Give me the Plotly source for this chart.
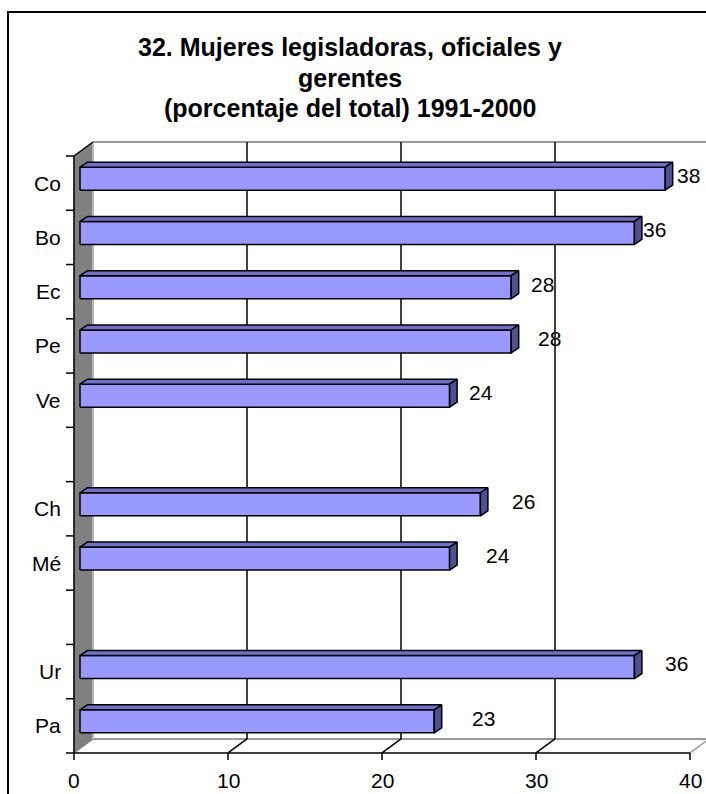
import plotly.graph_objects as go

# data (top to bottom, blank slots keep the gaps between groups)
countries = ["Co", "Bo", "Ec", "Pe", "Ve", "", "Ch", "Mé", "", "Ur", "Pa"]
values = [38, 36, 28, 28, 24, None, 26, 24, None, 36, 23]
x_ticks = [0, 10, 20, 30, 40]
# where Excel left each data label, relative to its bar end
label_dx = [1.9, 1.7, 2.4, 2.9, 2.4, None, 3.2, 3.5, None, 3.1, 3.6]

title_lines = [
    "32. Mujeres legisladoras, oficiales y",
    "gerentes",
    "(porcentaje del total) 1991-2000",
]

W, H = 706, 794
# axis scale: value 0 -> px 74, 40 -> px 690 ; slot boundaries px 156 .. 753
PX_X0, PX_PER_V = 74, 15.4
PX_Y0, PX_PER_S = 156, 54.27

# 3d depth of the walls and of the bars (in axis units)
DX, DY = 19 / PX_PER_V, -14 / PX_PER_S
BAR_X0 = 6 / PX_PER_V
BAR_OFF, BAR_HALF = -0.083, 0.212
BDX, BDY = 7.5 / PX_PER_V, -5 / PX_PER_S

n = len(countries)
s_top, s_bot = -0.5, n - 0.5
v_max = x_ticks[-1]

FONT = "Liberation Sans, Arial, sans-serif"

fig = go.Figure()


def poly(pts, fill=None, line="black", width=1.5):
    xs = [p[0] for p in pts]
    ys = [p[1] for p in pts]
    fig.add_trace(go.Scatter(
        x=xs, y=ys, mode="lines",
        fill="toself" if fill else None,
        fillcolor=fill,
        line=dict(color=line, width=width),
        hoverinfo="skip", showlegend=False,
    ))


def seg(x0, y0, x1, y1, color="black", width=1.5):
    poly([(x0, y0), (x1, y1)], line=color, width=width)


# back wall edges
seg(DX, s_top + DY, v_max + DX + 2, s_top + DY, color="#9a9a9a", width=2)
seg(DX, s_bot + DY, v_max + DX, s_bot + DY, color="#9a9a9a", width=2)

# back wall gridlines and floor diagonals
for v in x_ticks[1:]:
    if v < v_max:
        seg(v + DX, s_top + DY, v + DX, s_bot + DY, width=1.5)
        seg(v, s_bot, v + DX, s_bot + DY, width=1.5)
seg(v_max, s_bot, v_max + DX, s_bot + DY, color="#9a9a9a", width=1.5)
seg(0, s_bot, DX, s_bot + DY, color="#9a9a9a", width=1.5)

# left wall
poly([(0, s_top), (DX, s_top + DY), (DX, s_bot + DY), (0, s_bot), (0, s_top)],
     fill="#808080", line="#808080", width=0.5)
seg(DX, s_top + DY, DX, s_bot + DY, color="#b8b8b8", width=2)
seg(0, s_top, DX, s_top + DY, width=1.5)

# front axes
seg(0, s_top, 0, s_bot, width=1.5)
seg(0, s_bot, v_max, s_bot, width=1.5)
tick_len_x = 8 / PX_PER_V
tick_len_y = 7 / PX_PER_S
for i in range(n + 1):
    seg(-tick_len_x, i - 0.5, 0, i - 0.5, width=1.5)
for v in x_ticks:
    seg(v, s_bot, v, s_bot + tick_len_y, width=1.5)

# bars
for i, v in enumerate(values):
    if v is None:
        continue
    x0, x1 = BAR_X0, BAR_X0 + v
    yt, yb = i + BAR_OFF - BAR_HALF, i + BAR_OFF + BAR_HALF
    poly([(x0, yb), (x0, yt), (x1, yt), (x1, yb), (x0, yb)], fill="#9999ff")
    poly([(x0, yt), (x0 + BDX, yt + BDY), (x1 + BDX, yt + BDY), (x1, yt), (x0, yt)],
         fill="#7070c8")
    poly([(x1, yt), (x1 + BDX, yt + BDY), (x1 + BDX, yb + BDY), (x1, yb), (x1, yt)],
         fill="#50508c")

annotations = []
# category labels
for i, c in enumerate(countries):
    if c:
        annotations.append(dict(
            x=-11 / PX_PER_V, y=i, xref="x", yref="y", text=c, showarrow=False,
            xanchor="right", yanchor="middle", font=dict(family=FONT, size=21, color="black"),
        ))
# value tick labels
for v in x_ticks:
    annotations.append(dict(
        x=v, y=s_bot + 28 / PX_PER_S, xref="x", yref="y", text=str(v), showarrow=False,
        xanchor="center", yanchor="middle", font=dict(family=FONT, size=21, color="black"),
    ))
# data labels
for i, v in enumerate(values):
    if v is None:
        continue
    annotations.append(dict(
        x=v + label_dx[i], y=i - 0.14, xref="x", yref="y", text=str(v), showarrow=False,
        xanchor="center", yanchor="middle", font=dict(family=FONT, size=21, color="black"),
    ))
# title
for k, line in enumerate(title_lines):
    annotations.append(dict(
        x=350 / W, y=1 - (47 + 30.5 * k) / H, xref="paper", yref="paper",
        text="<b>" + line + "</b>", showarrow=False,
        xanchor="center", yanchor="middle", font=dict(family=FONT, size=25, color="black"),
    ))

x_range = [-PX_X0 / PX_PER_V, (W - PX_X0) / PX_PER_V]
y_range = [s_top + (H - PX_Y0) / PX_PER_S, s_top - PX_Y0 / PX_PER_S]

fig.update_layout(
    width=W, height=H,
    margin=dict(l=0, r=0, t=0, b=0),
    paper_bgcolor="white", plot_bgcolor="white",
    showlegend=False,
    xaxis=dict(range=x_range, visible=False, fixedrange=True),
    yaxis=dict(range=y_range, visible=False, fixedrange=True),
    annotations=annotations,
    shapes=[dict(
        type="rect", xref="paper", yref="paper",
        x0=8 / W, y0=-0.02, x1=1.02, y1=1 - 12 / H,
        line=dict(color="black", width=2),
    )],
)

# drop the browser's default page margin so the figure fills the window
fig.write_html(
    "out.html",
    config={"displayModeBar": False},
    post_script="document.body.style.margin='0';",
)
